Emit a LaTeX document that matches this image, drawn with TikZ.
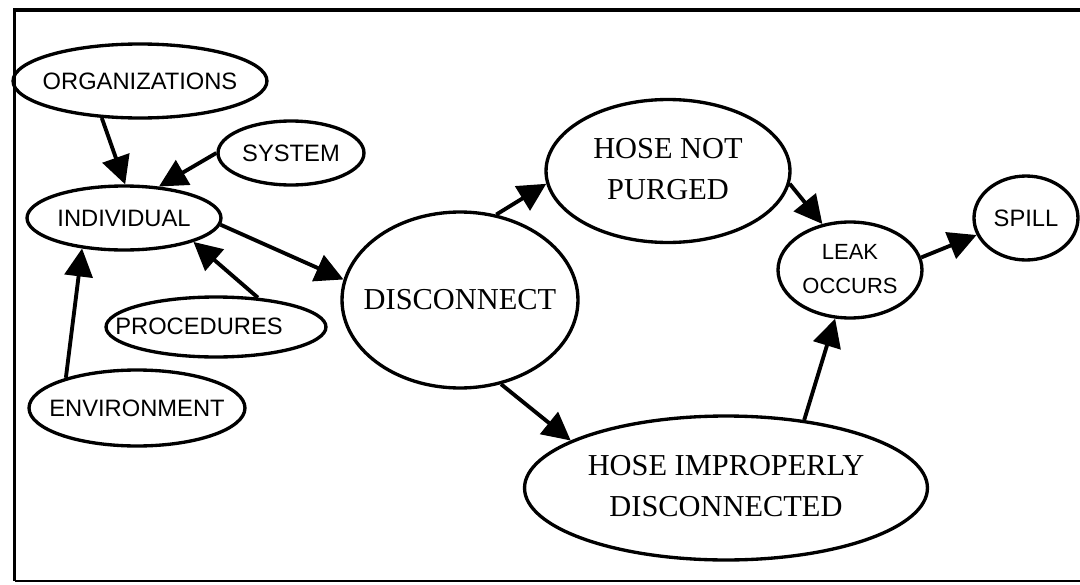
\documentclass[tikz,border=0pt]{standalone}
\usepackage{fontspec}
\setmainfont{Liberation Serif}
\setsansfont{Liberation Sans}
\usetikzlibrary{shapes.geometric,arrows.meta}
\newcommand{\onel}[1]{\makebox[0pt][c]{#1}}
\newcommand{\twol}[2]{\makebox[0pt][c]{\begin{tabular}{@{}c@{}}#1\\#2\end{tabular}}}
\begin{document}
\begin{tikzpicture}[x=0.02cm,y=-0.02cm,
  sbox/.style={ellipse, draw, line width=1.9pt, inner sep=0pt,
    font=\sffamily\fontsize{13.5}{19}\selectfont},
  rbox/.style={ellipse, draw, line width=1.9pt, inner sep=0pt,
    font=\rmfamily\fontsize{17.3}{22.8}\selectfont},
  stext/.style={inner sep=0pt, font=\sffamily\fontsize{13.5}{19}\selectfont},
  conn/.style={line width=2.2pt, -{Triangle[length=0.56cm,width=0.56cm]}},
  frameline/.style={line width=2.2pt}]
\useasboundingbox (0,0) rectangle (1080,585);
\draw[frameline] (1080,10) -- (14.5,10) -- (14.5,581);
\draw[line width=1.6pt] (14.5,581) -- (1080,581);

\node[sbox, minimum width=5.08cm, minimum height=1.48cm] (org) at (140,81) {\onel{ORGANIZATIONS}};
\node[sbox, minimum width=2.92cm, minimum height=1.28cm] (sys) at (291,153) {\onel{SYSTEM}};
\node[sbox, minimum width=3.88cm, minimum height=1.28cm] (ind) at (124,218) {\onel{INDIVIDUAL}};
\node[sbox, minimum width=4.4cm, minimum height=1.2cm] (proc) at (216,327) {};
\node[stext] (proctext) at (199,326) {PROCEDURES};
\node[sbox, minimum width=4.32cm, minimum height=1.52cm] (env) at (137,408) {\onel{ENVIRONMENT}};
\node[rbox, minimum width=4.72cm, minimum height=3.52cm] (dis) at (460,300) {\onel{DISCONNECT}};
\node[rbox, minimum width=4.88cm, minimum height=2.86cm] (hnp) at (668,171) {\twol{HOSE NOT}{PURGED}};
\node[rbox, minimum width=8.06cm, minimum height=2.88cm] (hid) at (726,488) {\twol{HOSE IMPROPERLY}{DISCONNECTED}};
\node[sbox, minimum width=2.88cm, minimum height=1.92cm, font=\sffamily\fontsize{12.5}{19}\selectfont] (leak) at (850,270) {\twol{LEAK}{OCCURS}};
\node[sbox, minimum width=2.08cm, minimum height=1.68cm] (spill) at (1026,218) {\onel{SPILL}};

\draw[conn] (org.224) -- (ind.88);
\draw[conn] (sys.180) -- (ind.42);
\draw[conn] (proc.35) -- (ind.341);
\draw[conn] (env.157) -- (ind.216);
\draw[conn] (ind.356) -- (dis.170);
\draw[conn] (dis.67.6) -- (hnp.186.5);
\draw[conn] (dis.296) -- (hid.163.7);
\draw[conn] (hnp.354) -- (leak.121);
\draw[conn] (hid.41) -- (leak.253);
\draw[conn] (leak.10) -- (spill.199.5);
\end{tikzpicture}
\end{document}
